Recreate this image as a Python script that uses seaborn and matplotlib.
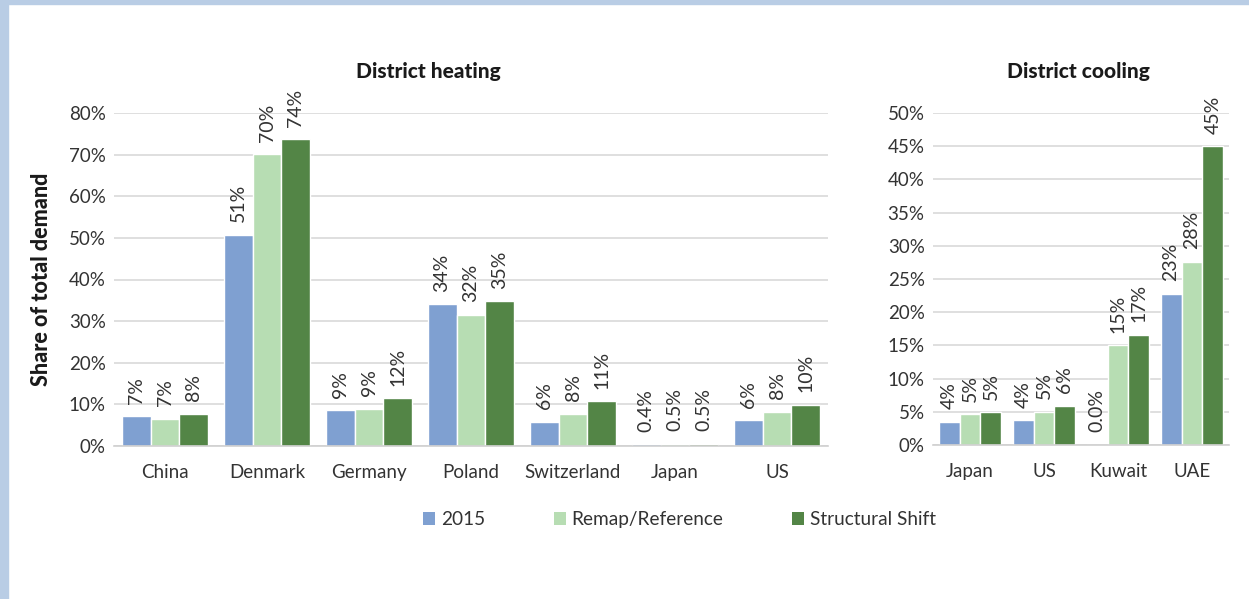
import matplotlib
import matplotlib.pyplot as plt
import pandas as pd
import seaborn as sns
from matplotlib.patches import Patch, Rectangle

matplotlib.use("Agg")

SERIES = ["2015", "Remap/Reference", "Structural Shift"]
COLORS = ["#7fa0d1", "#b7ddb3", "#538546"]

HEAT_COUNTRIES = ["China", "Denmark", "Germany", "Poland", "Switzerland", "Japan", "US"]
HEAT_2015 = [7.2, 50.7, 8.6, 34.1, 5.8, 0.4, 6.2]
HEAT_REMAP = [6.6, 70.1, 8.9, 31.5, 7.8, 0.5, 8.2]
HEAT_SHIFT = [7.7, 73.7, 11.5, 34.8, 10.8, 0.5, 9.9]

COOL_COUNTRIES = ["Japan", "US", "Kuwait", "UAE"]
COOL_2015 = [3.5, 3.7, 0.0, 22.8]
COOL_REMAP = [4.6, 5.0, 15.0, 27.6]
COOL_SHIFT = [4.9, 5.9, 16.6, 45.0]


def to_long(countries, *series_values):
    rows = []
    for name, vals in zip(SERIES, series_values):
        for c, v in zip(countries, vals):
            rows.append({"country": c, "series": name, "value": v})
    return pd.DataFrame(rows)


def fmt(v):
    return f"{v:.1f}%" if v < 1 else f"{v:.0f}%"


def draw(ax, df, ymax, step, title_x, title):
    sns.barplot(data=df, x="country", y="value", hue="series", palette=COLORS,
                width=0.85, saturation=1, legend=False, ax=ax)
    for cont in ax.containers:
        ax.bar_label(cont, labels=[fmt(b.get_height()) for b in cont], rotation=90,
                     padding=9, fontsize=14, color="#333333")
    ax.set_ylim(0, ymax)
    ax.set_yticks(range(0, ymax + 1, step))
    ax.set_yticklabels([f"{t}%" for t in range(0, ymax + 1, step)])
    ax.set_xlim(-0.5, len(df["country"].unique()) - 0.5)
    ax.set_xlabel("")
    ax.set_ylabel("")
    ax.grid(axis="y", color="#d9d9d9", linewidth=1.2)
    ax.grid(axis="x", visible=False)
    ax.set_axisbelow(True)
    for s in ["top", "right", "left"]:
        ax.spines[s].set_visible(False)
    ax.spines["bottom"].set_color("#d0d0d0")
    ax.spines["bottom"].set_linewidth(1.2)
    ax.tick_params(axis="both", length=0, labelsize=13.5, labelcolor="#333333")
    ax.tick_params(axis="x", pad=13)
    ax.tick_params(axis="y", pad=6)
    ax.figure.text(title_x, 0.88, title, ha="center", va="center",
                   fontsize=15, fontweight="black", color="#1a1a1a")


sns.set_theme(style="white")
plt.rcParams["font.family"] = ["Lato", "DejaVu Sans"]

fig = plt.figure(figsize=(12.49, 5.99), dpi=100)
fig.patch.set_facecolor("white")
fig.patches.append(Rectangle((0, 0), 8 / 1249, 1, transform=fig.transFigure,
                             color="#b9cde5", zorder=0))
fig.patches.append(Rectangle((0, 1 - 4 / 599), 1, 4 / 599, transform=fig.transFigure,
                             color="#b9cde5", zorder=0))

ax1 = fig.add_axes([114 / 1249, 153 / 599, 714 / 1249, 333 / 599])
ax2 = fig.add_axes([933 / 1249, 154 / 599, 296 / 1249, 332 / 599])

draw(ax1, to_long(HEAT_COUNTRIES, HEAT_2015, HEAT_REMAP, HEAT_SHIFT), 80, 10,
     428 / 1249, "District heating")
draw(ax2, to_long(COOL_COUNTRIES, COOL_2015, COOL_REMAP, COOL_SHIFT), 50, 5,
     1078 / 1249, "District cooling")

fig.text(42 / 1249, 0.534, "Share of total demand", rotation=90, ha="center",
         va="center", fontsize=15.5, fontweight="black", color="#1a1a1a")

handles = [Patch(facecolor=c, edgecolor="none") for c in COLORS]
fig.legend(handles, SERIES, loc="center", bbox_to_anchor=(0.544, 0.132), ncol=3,
           frameon=False, fontsize=13.7, handlelength=0.65, handleheight=0.65,
           handletextpad=0.3, columnspacing=3.6, labelcolor="#333333")

fig.savefig("out.png", dpi=100)
